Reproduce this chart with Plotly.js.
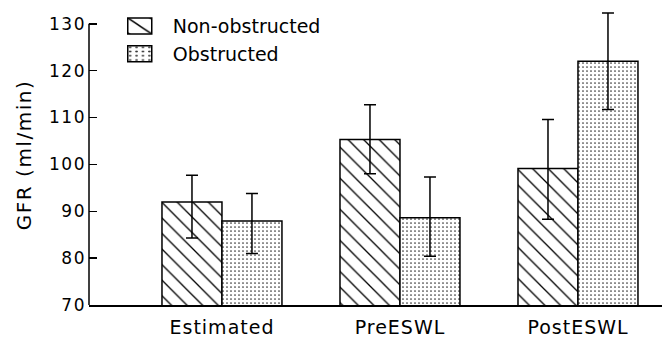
<!DOCTYPE html>
<html>
<head>
<meta charset="utf-8">
<script src="https://cdn.plot.ly/plotly-3.0.1.min.js"></script>
<style>
  body { margin: 0; padding: 0; background: #fff; }
  #chart { width: 664px; height: 338px; }
  .xtick text { letter-spacing: 1px; }
  .ytick text { letter-spacing: 1.5px; }
  .ytitle { letter-spacing: 1.5px; }
</style>
</head>
<body>
<div id="chart"></div>
<script>
// ---- data ----
const categories = ["Estimated", "PreESWL", "PostESWL"];
const seriesNames = ["Non-obstructed", "Obstructed"];
const nonObstructed = [92.0, 105.3, 99.1];
const nonObstructedErrUp = [5.7, 7.4, 10.5];
const nonObstructedErrDown = [7.7, 7.3, 10.8];
const obstructed = [87.9, 88.6, 122.0];
const obstructedErrUp = [5.9, 8.7, 10.3];
const obstructedErrDown = [6.9, 8.2, 10.3];
const yTicks = [70, 80, 90, 100, 110, 120, 130];

const FONT = "DejaVu Sans, Liberation Sans, sans-serif";
const idx = categories.map((c, i) => i);
const yMin = yTicks[0], yMax = yTicks[yTicks.length - 1];

const traces = [
  {
    type: "bar",
    name: seriesNames[0],
    x: idx,
    y: nonObstructed,
    cliponaxis: false,
    marker: {
      color: "white",
      line: { color: "black", width: 1.5 },
      pattern: { shape: "\\", fgcolor: "black", bgcolor: "white", size: 11, solidity: 0.12 }
    },
    error_y: {
      type: "data", symmetric: false,
      array: nonObstructedErrUp, arrayminus: nonObstructedErrDown,
      color: "black", thickness: 1.5, width: 6
    }
  },
  {
    type: "bar",
    name: seriesNames[1],
    x: idx,
    y: obstructed,
    cliponaxis: false,
    marker: {
      color: "white",
      line: { color: "black", width: 1.5 },
      pattern: { shape: ".", fgcolor: "#333", bgcolor: "white", size: 4, solidity: 0.14 }
    },
    error_y: {
      type: "data", symmetric: false,
      array: obstructedErrUp, arrayminus: obstructedErrDown,
      color: "black", thickness: 1.5, width: 6
    }
  }
];

const layout = {
  width: 664,
  height: 338,
  margin: { l: 89, r: 2, t: 5, b: 32.5, pad: 0 },
  paper_bgcolor: "white",
  plot_bgcolor: "white",
  font: { family: FONT, color: "black" },
  barmode: "group",
  bargap: 0.326,
  bargroupgap: 0,
  showlegend: true,
  legend: {
    x: 0.031, xanchor: "left",
    y: 0.993, yanchor: "top",
    font: { family: FONT, size: 19, color: "black" },
    bgcolor: "rgba(0,0,0,0)",
    itemwidth: 56,
    tracegroupgap: 0
  },
  xaxis: {
    tickmode: "array",
    tickvals: idx,
    ticktext: categories,
    range: [-0.747, 2.472],
    showline: true, linecolor: "black", linewidth: 1.5,
    ticks: "", showgrid: false, zeroline: false,
    tickfont: { family: FONT, size: 19, color: "black" },
    ticklabelstandoff: 5,
    automargin: false
  },
  yaxis: {
    range: [yMin, 134],
    tickmode: "array",
    tickvals: yTicks,
    ticks: "inside", ticklen: 8, tickwidth: 1.5, tickcolor: "black",
    showline: false,
    showgrid: false, zeroline: false,
    tickfont: { family: FONT, size: 17, color: "black" },
    ticklabelstandoff: 2,
    automargin: false,
    title: { text: "GFR (ml/min)", font: { family: FONT, size: 20, color: "black" }, standoff: 12 }
  },
  shapes: [
    { type: "line", xref: "paper", yref: "y", x0: 0, x1: 0, y0: yMin, y1: yMax,
      line: { color: "black", width: 1.5 } }
  ]
};

Plotly.newPlot("chart", traces, layout, { staticPlot: true, displayModeBar: false }).then(() => {
  document.querySelectorAll(".legendpoints path").forEach(p => {
    const t = p.getAttribute("transform") || "";
    p.setAttribute("transform", t + " scale(2,1.33)");
    p.style.vectorEffect = "non-scaling-stroke";
  });
});
</script>
</body>
</html>
